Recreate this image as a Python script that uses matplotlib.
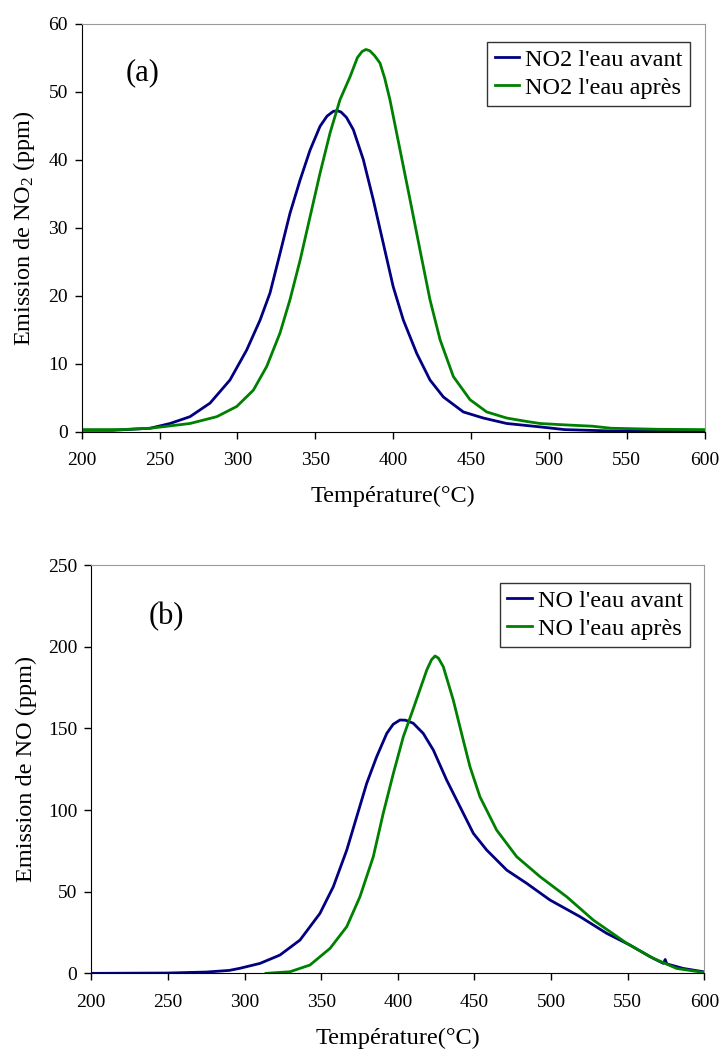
#!/usr/bin/env python3
# -*- coding: utf-8 -*-
"""NO2 / NO emission vs temperature, two stacked panels (a) and (b)."""
import matplotlib
matplotlib.use("Agg")
import matplotlib.pyplot as plt

# ── panel (a) : NO2 ──────────────────────────────────────────────────────────
t_no2_avant = [200, 220, 243.9, 256.7, 269.5, 282.4, 295.2, 305.9, 314.5,
               320.9, 327.3, 333.7, 340.2, 346.6, 353, 357.5, 361.5, 364,
               366.5, 370, 374.4, 380.8, 387.2, 393.6, 400, 406.5, 415.1,
               423.6, 432.2, 445, 457.9, 472.9, 494.3, 510, 540, 600]
no2_avant = [0.2, 0.2, 0.5, 1.2, 2.2, 4.2, 7.6, 12.0, 16.4, 20.4, 26.2, 32.1,
             37.0, 41.4, 44.9, 46.4, 47.1, 47.2, 47.0, 46.2, 44.4, 40.0, 34.1,
             27.7, 21.3, 16.4, 11.5, 7.6, 5.1, 2.9, 2.0, 1.2, 0.7, 0.3, 0.1,
             0.0]

t_no2_apres = [200, 225, 243.9, 269.5, 286.7, 299.5, 310.2, 318.8, 327.3,
               333.7, 340.2, 346.6, 353, 359.4, 365.8, 372.3, 377, 380, 382.5,
               385, 388, 391.5, 394.5, 397.9, 404.4, 410.8, 417.2, 423.6,
               430.1, 438.6, 449.3, 460, 472.9, 485.7, 494.3, 510, 528, 540,
               570, 600]
no2_apres = [0.3, 0.3, 0.5, 1.2, 2.2, 3.7, 6.1, 9.6, 14.5, 19.4, 25.2, 31.6,
             38.0, 43.9, 48.8, 52.2, 55.0, 55.9, 56.2, 56.0, 55.3, 54.2, 52.0,
             48.8, 41.4, 34.1, 26.7, 19.4, 13.5, 8.1, 4.7, 2.9, 2.0, 1.5, 1.2,
             1.0, 0.8, 0.5, 0.35, 0.3]

# ── panel (b) : NO ───────────────────────────────────────────────────────────
t_no_avant = [200, 250, 275, 290, 297, 310.1, 323.1, 336.2, 349.2, 357.9,
              366.7, 373.2, 379.7, 386.2, 392.8, 397, 401.4, 405, 410.1,
              416.6, 423.2, 431.9, 440.6, 449.3, 458, 471.1, 484.1, 499.3,
              518.9, 536.3, 551.5, 564.6, 573.3, 574.5, 575.5, 586.3, 599.3,
              600]
no_avant = [0, 0.2, 0.8, 1.8, 3.1, 6.1, 11.2, 20.4, 36.7, 53.0, 75.5, 95.9,
            116.3, 132.6, 146.9, 152.5, 155.1, 155.0, 153.1, 146.9, 136.7,
            118.3, 102, 85.7, 75.5, 63.2, 55.1, 44.9, 34.7, 24.5, 17.3, 10.2,
            6.1, 8.5, 5.8, 3.0, 1.0, 0.8]

t_no_apres = [314, 329.7, 342.7, 355.8, 366.7, 375.3, 384, 390.5, 397.1,
              403.6, 410.1, 418.9, 422, 424.3, 426.5, 429.7, 436.2, 442.7,
              447.1, 453.6, 464.5, 477.6, 492.8, 510.2, 527.6, 549.4, 566.7,
              582, 599.3, 600]
no_apres = [0.0, 1.0, 5.1, 15.3, 28.6, 46.9, 71.4, 98.0, 122.4, 144.9, 162,
            185.7, 192, 194.3, 193, 187.7, 167.3, 142.8, 126.5, 108.1, 87.7,
            71.4, 59.2, 46.9, 32.6, 18.4, 9.2, 3.0, 0.6, 0.5]

x_ticks = [200, 250, 300, 350, 400, 450, 500, 550, 600]
y_ticks_a = [0, 10, 20, 30, 40, 50, 60]
y_ticks_b = [0, 50, 100, 150, 200, 250]

BLUE = "#000080"
GREEN = "#008000"
SERIF = ["Liberation Serif", "DejaVu Serif"]

plt.rcParams["font.family"] = SERIF
plt.rcParams["mathtext.fontset"] = "custom"
plt.rcParams["mathtext.rm"] = "Liberation Serif"
plt.rcParams["mathtext.default"] = "regular"


def _panel(ax, series, yticks, ylabel, tag, tag_xy, leg_anchor):
    for t, v, c, lab in series:
        ax.plot(t, v, color=c, lw=2.0, label=lab, solid_joinstyle="round")
    ax.set_xlim(x_ticks[0], x_ticks[-1])
    ax.set_ylim(yticks[0], yticks[-1])
    ax.set_xticks(x_ticks)
    ax.set_yticks(yticks)
    ax.tick_params(direction="out", length=5, width=1, labelsize=14,
                   colors="black")
    ax.tick_params(axis="x", pad=10)
    ax.tick_params(axis="y", pad=5)
    for s in ("top", "right"):
        ax.spines[s].set_color("#9a9a9a")
    for s in ("left", "bottom"):
        ax.spines[s].set_color("black")
    ax.set_xlabel("Température(°C)", fontsize=17.5, labelpad=12)
    ax.set_ylabel(ylabel, fontsize=17.5, labelpad=8)
    ax.text(*tag_xy, tag, transform=ax.transAxes, fontsize=22,
            ha="center", va="center")
    leg = ax.legend(loc="upper right", bbox_to_anchor=leg_anchor,
                    fontsize=17.5, frameon=True, fancybox=False,
                    handlelength=1.0, handletextpad=0.25, borderpad=0.3,
                    labelspacing=0.25, borderaxespad=0)
    leg.get_frame().set_edgecolor("black")
    leg.get_frame().set_linewidth(1.0)


fig = plt.figure(figsize=(7.2, 10.5), dpi=100)
fig.patch.set_facecolor("white")

ax_a = fig.add_axes([0.1135, 0.5889, 0.8653, 0.3886])
_panel(ax_a,
       [(t_no2_avant, no2_avant, BLUE, "NO2 l'eau avant"),
        (t_no2_apres, no2_apres, GREEN, "NO2 l'eau après")],
       y_ticks_a, "Emission de NO$_2$ (ppm)", "(a)", (0.097, 0.879),
       (0.976, 0.956))

ax_b = fig.add_axes([0.1268, 0.0730, 0.8514, 0.3889])
_panel(ax_b,
       [(t_no_avant, no_avant, BLUE, "NO l'eau avant"),
        (t_no_apres, no_apres, GREEN, "NO l'eau après")],
       y_ticks_b, "Emission de NO (ppm)", "(b)", (0.123, 0.873),
       (0.977, 0.957))

fig.savefig("out.png", dpi=100, facecolor="white")
plt.close(fig)
